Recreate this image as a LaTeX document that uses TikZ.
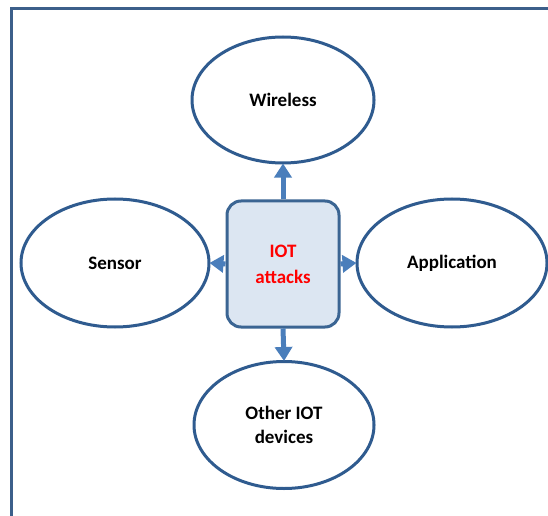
\documentclass[tikz,border=0pt]{standalone}
\usepackage{fontspec}
\setmainfont{Carlito}
\usetikzlibrary{shapes.geometric,arrows.meta}
\definecolor{ellline}{HTML}{2F5B8F}
\definecolor{arrcol}{HTML}{4A7EBB}
\definecolor{boxfill}{HTML}{DCE6F2}
\definecolor{boxline}{HTML}{3B6593}
\definecolor{frameline}{HTML}{3C5F8A}
\tikzset{
  ell/.style={ellipse, draw=ellline, line width=3bp, fill=white, inner sep=0pt,
    font=\fontsize{19bp}{24bp}\selectfont\bfseries, align=center},
  centerbox/.style={rectangle, rounded corners=14bp, draw=boxline, line width=3bp, fill=boxfill,
    minimum width=112bp, minimum height=126bp, inner sep=0pt,
    font=\fontsize{19bp}{26bp}\selectfont\bfseries, text=red, align=center},
  conn/.style={draw=arrcol, line width=5bp, -{Triangle[width=17bp,length=14bp]}, shorten >=-1bp}
}
\begin{document}
\begin{tikzpicture}[x=1bp,y=-1bp]
\useasboundingbox (0,0) rectangle (548,516);
\clip (0,0) rectangle (548,516);
\fill[white] (0,0) rectangle (548,516);
\draw[frameline, line width=3bp] (11,9) rectangle (570,540);
\node[centerbox] (c) at (283,264) {IOT\\attacks};
\node[ell, minimum width=182bp, minimum height=126bp] (w) at (283,100) {Wireless};
\node[ell, minimum width=188bp, minimum height=128bp] (s) at (115,263) {Sensor};
\node[ell, minimum width=190bp, minimum height=128bp] (a) at (452,263) {Application};
\node[ell, minimum width=180bp, minimum height=127bp] (o) at (284,425) {Other IOT\\devices};
\draw[conn] (c.north) -- (w.south);
\draw[conn] (c.west) -- (s.east);
\draw[conn] (c.east) -- (a.west);
\draw[conn] (c.south) -- (o.north);
\end{tikzpicture}
\end{document}
